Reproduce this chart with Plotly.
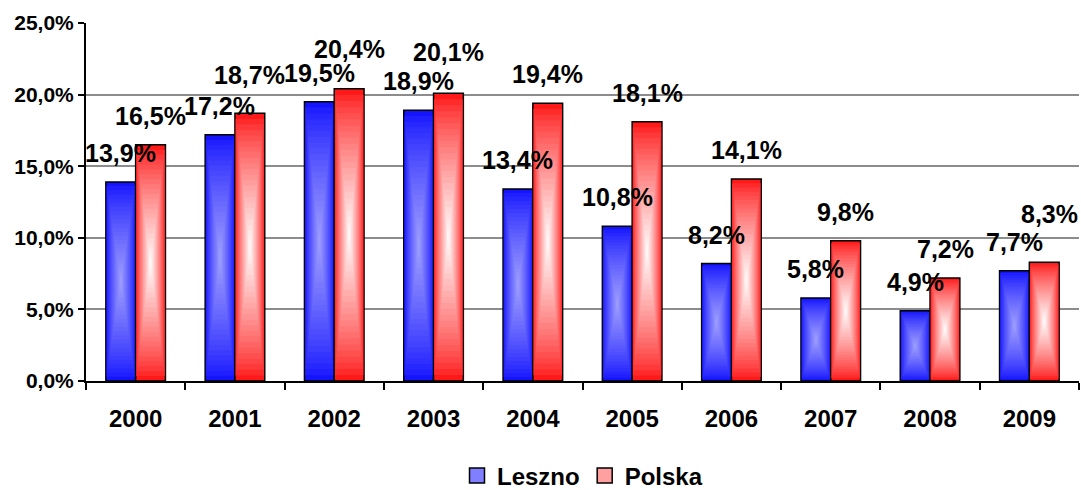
import plotly.graph_objects as go

years = ["2000", "2001", "2002", "2003", "2004", "2005", "2006", "2007", "2008", "2009"]
leszno = [13.9, 17.2, 19.5, 18.9, 13.4, 10.8, 8.2, 5.8, 4.9, 7.7]
polska = [16.5, 18.7, 20.4, 20.1, 19.4, 18.1, 14.1, 9.8, 7.2, 8.3]

FONT = "Arial, Liberation Sans, sans-serif"
BAR_W = 0.3
LAYERS = 24
pos = list(range(len(years)))

# extra pixel nudges (dx, dy) for labels that Excel pushed up to avoid overlaps
polska_nudge = {1: (0, 9), 2: (0, 11), 3: (0, 12), 9: (5, 19)}


def lerp(c1, c2, t):
    r = [round(a + (b - a) * t) for a, b in zip(c1, c2)]
    return f"rgb({r[0]},{r[1]},{r[2]})"


def add_gradient_bars(fig, values, offset, edge, center, name, legend_color):
    # outer bar with black outline
    fig.add_trace(go.Bar(
        x=pos, y=values, offset=offset, width=BAR_W,
        marker=dict(color=lerp(edge, center, 0), line=dict(color="black", width=1.5)),
        showlegend=False, hoverinfo="skip",
    ))
    # nested layers fake an Excel "from centre" gradient
    for i in range(1, LAYERS):
        t = i / LAYERS
        fig.add_trace(go.Bar(
            x=pos,
            y=[v * (1 - t) for v in values],
            base=[v * t / 2 for v in values],
            offset=offset + BAR_W * t / 2,
            width=BAR_W * (1 - t),
            marker=dict(color=lerp(edge, center, t ** 0.8), line=dict(width=0)),
            showlegend=False, hoverinfo="skip",
        ))
    fig.add_trace(go.Scatter(
        x=[None], y=[None], mode="markers", name=name,
        marker=dict(symbol="square", size=15, color=legend_color,
                    line=dict(color="black", width=1.5)),
    ))


fig = go.Figure()
add_gradient_bars(fig, leszno, -BAR_W, (20, 20, 255), (160, 160, 255), "Leszno", "#7f7fff")
add_gradient_bars(fig, polska, 0.0, (255, 25, 25), (255, 255, 255), "Polska", "#ff9f9f")

for vals, shift, nudge in ((leszno, -15, {}), (polska, 15, polska_nudge)):
    for p, v in zip(pos, vals):
        dx, dy = nudge.get(p, (0, 0))
        fig.add_annotation(
            x=p, y=v, xshift=shift + dx, yshift=13 + dy, yanchor="bottom", showarrow=False,
            text=f"{v:.1f}%".replace(".", ","),
            font=dict(family=FONT, size=25, color="black", weight="bold"),
        )

fig.update_layout(
    width=1081, height=490,
    margin=dict(l=86, r=2, t=23, b=109, autoexpand=False),
    paper_bgcolor="white", plot_bgcolor="white",
    barmode="overlay",
    font=dict(family=FONT, color="black", weight="bold"),
    legend=dict(orientation="h", x=0.5, xanchor="center", y=-0.265, yanchor="middle",
                font=dict(size=24, family=FONT, weight="bold"), itemwidth=30,
                tracegroupgap=0),
    xaxis=dict(
        range=[-0.5, len(years) - 0.5], tickvals=pos, ticktext=years,
        showline=True, linecolor="black", linewidth=2, ticks="",
        minor=dict(tick0=-0.5, dtick=1, ticks="outside", ticklen=7, tickwidth=2,
                   tickcolor="black", showgrid=False),
        ticklabelstandoff=15,
        tickfont=dict(size=24, family=FONT, weight="bold"), showgrid=False, zeroline=False,
    ),
    yaxis=dict(
        range=[0, 25], dtick=5, tickformat=".1f", ticksuffix="%",
        showline=True, linecolor="black", linewidth=2,
        ticks="outside", ticklen=6, tickwidth=2, tickcolor="black",
        gridcolor="#8c8c8c", gridwidth=1.5, zeroline=False,
        tickfont=dict(size=21, family=FONT, weight="bold"),
    ),
    separators=",.",
)

# the page body has a default 8px margin; drop it so the figure sits at (0, 0)
fig.write_html("out.html", config={"displayModeBar": False},
               post_script="document.body.style.margin = '0';")
